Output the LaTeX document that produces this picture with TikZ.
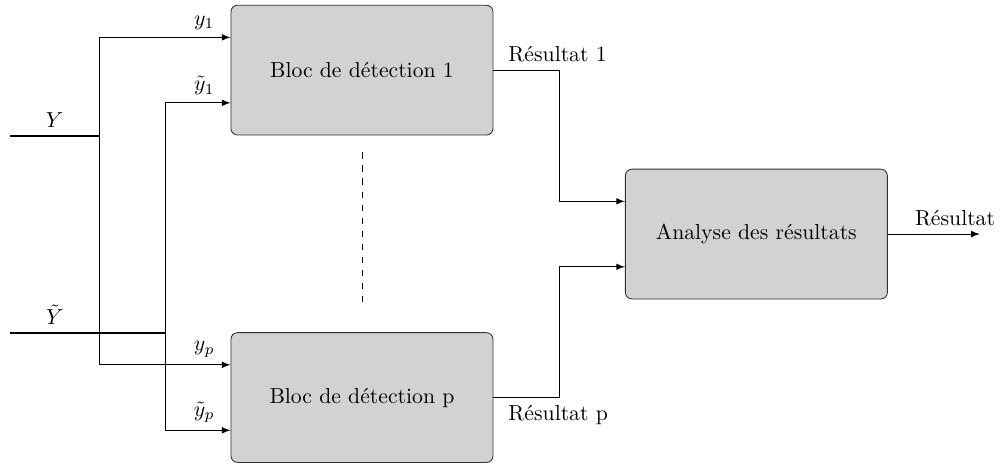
\documentclass[tikz,border=0pt]{standalone}
\usepackage{tikz}
\usetikzlibrary{positioning, arrows}
\tikzset{
    bloc/.style={rectangle, rounded corners=3pt, draw=black!80, fill=gray!35, minimum width=4.24cm, minimum height=2.1cm},
    entree/.style={very thick},
    lien/.style={->, >=latex},
}

\begin{document}
\begin{tikzpicture}
        \useasboundingbox (0,0) rectangle (16.2,7.51);
        \node [bloc] (det1) at (5.858,6.375) {Bloc de détection 1};
        \node [bloc] (detp) at (5.858,1.076) {Bloc de détection p};
        \node [bloc] (ana) at (12.241,3.722) {Analyse des résultats};
        \coordinate (Yin) at (0.162,5.307);
        \coordinate (Ybr) at (1.602,5.307);
        \coordinate (Ytin) at (0.162,2.120);
        \coordinate (Ytbr) at (2.670,2.120);
        \draw[entree] (Yin) -- node[above] (lY) {$Y$} (Ybr);
        \draw[entree] (Ytin) -- node[above, pos=0.29] (lYt) {$\tilde{Y}$} (Ytbr);
        \draw[lien] (Ybr) |- node[above, pos=0.9] (ly1) {$y_1$} ([yshift=0.53cm]det1.west);
        \draw[lien] (Ybr) |- node[above, pos=0.9] (lyp) {$y_p$} ([yshift=0.53cm]detp.west);
        \draw[lien] (Ytbr) |- node[above, pos=0.8] (lyt1) {$\tilde{y}_1$} ([yshift=-0.53cm]det1.west);
        \draw[lien] (Ytbr) |- node[above, pos=0.8] (lytp) {$\tilde{y}_p$} ([yshift=-0.53cm]detp.west);
        \draw[dashed] ([yshift=-0.275cm]det1.south) -- ([yshift=0.45cm]detp.north);
        \draw[lien] (det1.east) -- ++(1.07,0) |- ([yshift=0.53cm]ana.west);
        \draw[lien] (detp.east) -- ++(1.07,0) |- ([yshift=-0.53cm]ana.west);
        \node [above right=0pt and 0.12cm of det1.east] (r1) {Résultat 1};
        \node [below right=0pt and 0.12cm of detp.east] (rp) {Résultat p};
        \draw[lien] (ana.east) -- node[above, pos=0.73] (res) {Résultat} ++(1.49,0);
    \end{tikzpicture}
\end{document}
